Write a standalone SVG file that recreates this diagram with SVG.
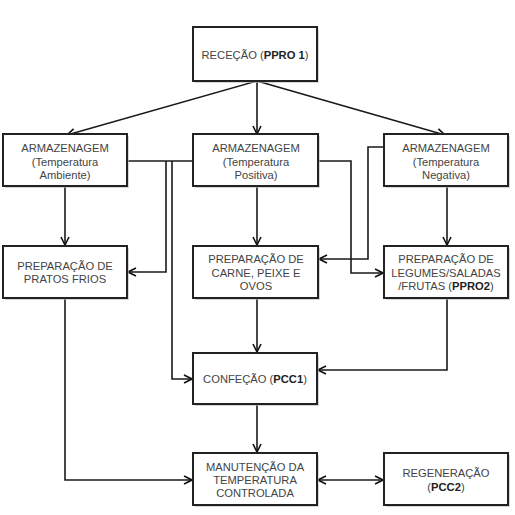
<svg xmlns="http://www.w3.org/2000/svg" width="515" height="515" viewBox="0 0 515 515">
<defs>
<marker id="arr" viewBox="0 0 10 10" refX="9" refY="5" markerWidth="10" markerHeight="10" markerUnits="userSpaceOnUse" orient="auto-start-reverse">
<path d="M1,1 L9,5 L1,9" fill="none" stroke="#111" stroke-width="1.6"/>
</marker>
</defs>
<style>
.box{fill:#fff;stroke:#222;stroke-width:2}
.sh{fill:#bbb;opacity:0.6}
.t{font-family:"Liberation Sans",Arial,sans-serif;font-size:11.2px;fill:#444;text-anchor:middle}
.b{font-weight:bold;fill:#222}
.c{fill:none;stroke:#1a1a1a;stroke-width:1.6}
</style>
<rect width="515" height="515" fill="#fff"/>
<g id="connectors">
<path class="c" d="M257,81 L67,135" marker-end="url(#arr)"/>
<path class="c" d="M257,81 L257,134" marker-end="url(#arr)"/>
<path class="c" d="M257,81 L445,135" marker-end="url(#arr)"/>
<path class="c" d="M127,161 L193,161"/>
<path class="c" d="M166,161 L166,272 L128,272" marker-end="url(#arr)"/>
<path class="c" d="M172,161 L172,379 L192,379" marker-end="url(#arr)"/>
<path class="c" d="M318,161 L351,161 L351,273 L383,273" marker-end="url(#arr)"/>
<path class="c" d="M384,147 L368,147 L368,259 L319,259" marker-end="url(#arr)"/>
<path class="c" d="M65,186 L65,245" marker-end="url(#arr)"/>
<path class="c" d="M257,186 L257,245" marker-end="url(#arr)"/>
<path class="c" d="M447,186 L447,245" marker-end="url(#arr)"/>
<path class="c" d="M257,298 L257,352" marker-end="url(#arr)"/>
<path class="c" d="M447,298 L447,370 L318,370" marker-end="url(#arr)"/>
<path class="c" d="M65,298 L65,480 L192,480" marker-end="url(#arr)"/>
<path class="c" d="M257,404 L257,452" marker-end="url(#arr)"/>
<path class="c" d="M318,480 L383,480" marker-start="url(#arr)" marker-end="url(#arr)"/>
</g>
<g id="rececao">
<rect class="sh" x="195" y="29" width="124" height="54"/>
<rect class="box" x="193" y="27" width="124" height="54"/>
<text class="t" x="255" y="59">RECEÇÃO (<tspan class="b">PPRO 1</tspan>)</text>
</g>
<g id="arm-ambiente">
<rect class="sh" x="5" y="136" width="124" height="52"/>
<rect class="box" x="3" y="134" width="124" height="52"/>
<text class="t" x="65" y="152">ARMAZENAGEM</text>
<text class="t" x="65" y="166">(Temperatura</text>
<text class="t" x="65" y="179">Ambiente)</text>
</g>
<g id="arm-positiva">
<rect class="sh" x="195" y="136" width="125" height="52"/>
<rect class="box" x="193" y="134" width="125" height="52"/>
<text class="t" x="256" y="152">ARMAZENAGEM</text>
<text class="t" x="256" y="166">(Temperatura</text>
<text class="t" x="256" y="179">Positiva)</text>
</g>
<g id="arm-negativa">
<rect class="sh" x="386" y="136" width="124" height="52"/>
<rect class="box" x="384" y="134" width="124" height="52"/>
<text class="t" x="446" y="152">ARMAZENAGEM</text>
<text class="t" x="446" y="166">(Temperatura</text>
<text class="t" x="446" y="179">Negativa)</text>
</g>
<g id="pratos-frios">
<rect class="sh" x="5" y="248" width="124" height="52"/>
<rect class="box" x="3" y="246" width="124" height="52"/>
<text class="t" x="65" y="270">PREPARAÇÃO DE</text>
<text class="t" x="65" y="283">PRATOS FRIOS</text>
</g>
<g id="carne">
<rect class="sh" x="195" y="248" width="125" height="52"/>
<rect class="box" x="193" y="246" width="125" height="52"/>
<text class="t" x="256" y="263">PREPARAÇÃO DE</text>
<text class="t" x="256" y="277">CARNE, PEIXE E</text>
<text class="t" x="256" y="290">OVOS</text>
</g>
<g id="legumes">
<rect class="sh" x="386" y="248" width="124" height="52"/>
<rect class="box" x="384" y="246" width="124" height="52"/>
<text class="t" x="446" y="263">PREPARAÇÃO DE</text>
<text class="t" x="446" y="277">LEGUMES/SALADAS</text>
<text class="t" x="446" y="290">/FRUTAS (<tspan class="b">PPRO2</tspan>)</text>
</g>
<g id="confecao">
<rect class="sh" x="195" y="355" width="124" height="51"/>
<rect class="box" x="193" y="353" width="124" height="51"/>
<text class="t" x="255" y="383">CONFEÇÃO (<tspan class="b">PCC1</tspan>)</text>
</g>
<g id="manutencao">
<rect class="sh" x="195" y="455" width="124" height="52"/>
<rect class="box" x="193" y="453" width="124" height="52"/>
<text class="t" x="255" y="471">MANUTENÇÃO DA</text>
<text class="t" x="255" y="484">TEMPERATURA</text>
<text class="t" x="255" y="497">CONTROLADA</text>
</g>
<g id="regeneracao">
<rect class="sh" x="386" y="455" width="124" height="52"/>
<rect class="box" x="384" y="453" width="124" height="52"/>
<text class="t" x="446" y="477">REGENERAÇÃO</text>
<text class="t" x="446" y="491">(<tspan class="b">PCC2</tspan>)</text>
</g>
</svg>
